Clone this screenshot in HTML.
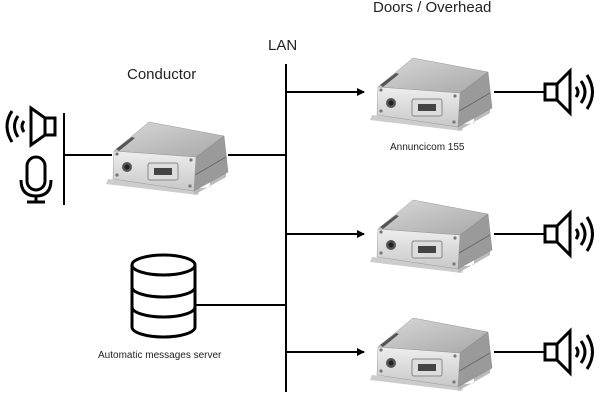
<!DOCTYPE html>
<html><head><meta charset="utf-8"><style>
html,body{margin:0;padding:0;background:#fff;}
svg text{font-family:"Liberation Sans",sans-serif;fill:#222;}
</style></head><body>
<svg width="600" height="412" viewBox="0 0 600 412" xmlns="http://www.w3.org/2000/svg">
<defs>
<linearGradient id="tg" x1="0" y1="0" x2="1" y2="1"><stop offset="0" stop-color="#d8d8d8"/><stop offset="1" stop-color="#a8a8a8"/></linearGradient>
<linearGradient id="fg" x1="0" y1="0" x2="0" y2="1"><stop offset="0" stop-color="#eeeeee"/><stop offset="1" stop-color="#c8c8c8"/></linearGradient>
<g id="dev">
 <polygon points="-6,28 -8,33 84,44 86,38" fill="#ccc"/>
 <polygon points="80,38 96,36 96,30 112,20 112,26 80,44" fill="#bbb"/>
 <polygon points="0,0 35,-29 110,-15 82,6" fill="url(#tg)" stroke="#999" stroke-width="0.5"/>
 <polygon points="82,6 110,-15 114,21 80,40" fill="#9a9a9a" stroke="#888" stroke-width="0.5"/>
 <line x1="81" y1="24" x2="112" y2="6" stroke="#666"/>
 <polygon points="0,0 82,6 80,40 -1,28" fill="url(#fg)" stroke="#999" stroke-width="0.5"/>
 <circle cx="3" cy="3" r="1.6" fill="#777"/><circle cx="3" cy="24" r="1.6" fill="#777"/>
 <circle cx="77" cy="9" r="1.6" fill="#777"/><circle cx="76" cy="35" r="1.6" fill="#777"/>
 <circle cx="13" cy="16" r="5" fill="#555"/><circle cx="13" cy="16" r="2.5" fill="#222"/>
 <rect x="34" y="12" width="30" height="17" rx="2" fill="#ddd" stroke="#888"/>
 <rect x="40" y="17" width="18" height="7" fill="#444"/>
 <polygon points="2,-2 18,-14 21,-13 5,0" fill="#555"/>
</g>
<g id="spk" fill="none" stroke="#000" stroke-width="3">
 <rect x="545" y="-8" width="12" height="16" fill="#fff"/>
 <polygon points="557,-8 570,-21 570,21 557,8" fill="#fff"/>
 <path d="M576,-5 Q580,0 576,5"/>
 <path d="M581,-11 Q589,0 581,11"/>
 <path d="M587,-17 Q598,0 587,17"/>
</g>
<marker id="ar" markerWidth="8" markerHeight="8" refX="7" refY="4" orient="auto" markerUnits="userSpaceOnUse"><polygon points="0,0 8,4 0,8" fill="#000"/></marker>
</defs>
<g stroke="#000" stroke-width="2" fill="none">
 <line x1="286" y1="64" x2="286" y2="392"/>
 <line x1="64" y1="113" x2="64" y2="205"/>
 <line x1="64" y1="155" x2="112" y2="155"/>
 <line x1="228" y1="155" x2="286" y2="155"/>
 <line x1="195" y1="305" x2="286" y2="305"/>
 <line x1="286" y1="92" x2="364" y2="92" marker-end="url(#ar)"/>
 <line x1="286" y1="234" x2="364" y2="234" marker-end="url(#ar)"/>
 <line x1="286" y1="352" x2="364" y2="352" marker-end="url(#ar)"/>
 <line x1="494" y1="92" x2="545" y2="92"/>
 <line x1="494" y1="234" x2="545" y2="234"/>
 <line x1="494" y1="352" x2="545" y2="352"/>
</g>
<use href="#dev" x="114" y="151"/>
<use href="#dev" x="378" y="87"/>
<use href="#dev" x="378" y="229"/>
<use href="#dev" x="378" y="347"/>
<use href="#spk" x="0" y="92"/>
<use href="#spk" x="0" y="234"/>
<use href="#spk" x="0" y="352"/>
<!-- cylinder -->
<g stroke="#000" stroke-width="3" fill="#fff">
 <path d="M132,265 L132,327 A31.5,10 0 0 0 195,327 L195,265"/>
 <ellipse cx="163.5" cy="265" rx="31.5" ry="10"/>
 <path d="M132,287 A31.5,10 0 0 0 195,287" fill="none"/>
 <path d="M132,307 A31.5,10 0 0 0 195,307" fill="none"/>
</g>
<!-- left speaker & mic -->
<g stroke="#000" stroke-width="3" fill="#fff">
 <rect x="45" y="118" width="10" height="17"/>
 <polygon points="45,118 31,108 31,145 45,135"/>
 <g fill="none">
 <path d="M24,121 Q20,126 24,132"/>
 <path d="M18,116 Q11,126 18,137"/>
 <path d="M12,111 Q2,126 12,142"/>
 <rect x="27" y="157" width="18" height="33" rx="9"/>
 <path d="M21,180 Q21,196 36,196 Q51,196 51,180"/>
 <line x1="36" y1="196" x2="36" y2="202"/>
 <line x1="27" y1="202" x2="45" y2="202"/>
 </g>
</g>
<text x="373" y="12" font-size="15">Doors / Overhead</text>
<text x="268" y="50" font-size="15">LAN</text>
<text x="127" y="79" font-size="15">Conductor</text>
<text x="390" y="150" font-size="10">Annuncicom 155</text>
<text x="98" y="358" font-size="10">Automatic messages server</text>
</svg>
</body></html>
